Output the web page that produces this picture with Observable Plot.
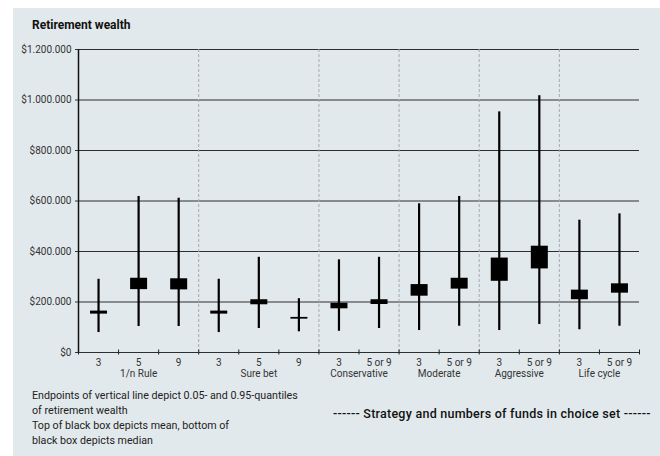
<!DOCTYPE html>
<html><head><meta charset="utf-8">
<script src="https://cdn.jsdelivr.net/npm/d3@7"></script>
<script src="https://cdn.jsdelivr.net/npm/@observablehq/plot@0.6"></script>
<style>
body{margin:0;background:#fff;font-family:Roboto,sans-serif;}
#panel{position:absolute;left:13px;top:8px;width:647px;height:448px;background:#e2e9ec;}
#title{position:absolute;left:19px;top:10px;font-size:12px;font-weight:700;color:#111;}
#chart{position:absolute;left:0;top:28px;}
#note{position:absolute;left:19px;top:380px;font-size:10.7px;line-height:15px;color:#222;}
#xlabel{position:absolute;left:320px;top:398px;font-size:12.5px;letter-spacing:0.25px;font-weight:500;color:#111;white-space:nowrap;}
</style></head><body>
<div id="panel">
<div id="title">Retirement wealth</div>
<div id="chart"></div>
<div id="note">Endpoints of vertical line depict 0.05- and 0.95-quantiles<br>of retirement wealth<br>Top of black box depicts mean, bottom of<br>black box depicts median</div>
<div id="xlabel">------ Strategy and numbers of funds in choice set ------</div>
</div>
<script>
const strategies = ["1/n Rule","1/n Rule","1/n Rule","Sure bet","Sure bet","Sure bet","Conservative","Conservative","Moderate","Moderate","Aggressive","Aggressive","Life cycle","Life cycle"];
const funds = ["3","5","9","3","5","9","3","5 or 9","3","5 or 9","3","5 or 9","3","5 or 9"];
const q05 = [79000,103000,103000,79000,95000,82000,84000,95000,87000,104000,87000,111000,90000,104000];
const q95 = [290000,618000,611000,290000,377000,213000,367000,377000,589000,618000,953000,1017000,524000,549000];
const means = [164000,294000,292000,164000,209000,139000,195000,209000,269000,294000,374000,421000,247000,272000];
const medians = [152000,249000,248000,152000,189000,132000,173000,190000,223000,251000,282000,331000,209000,235000];
const yTicks = [0,200000,400000,600000,800000,1000000,1200000];

const n = funds.length;
const rows = funds.map((f, i) => ({pos: i + 0.5, strategy: strategies[i], funds: f, q05: q05[i], q95: q95[i], mean: means[i], median: medians[i]}));
const groupNames = [...new Set(strategies)];
const groups = groupNames.map(g => ({name: g, center: d3.mean(rows.filter(r => r.strategy === g), r => r.pos)}));
const boundaries = d3.range(1, n).filter(i => strategies[i] !== strategies[i - 1]);
const yMax = yTicks[yTicks.length - 1];
const fmt = d => "$" + d3.format(",")(d).replace(/,/g, ".");

const chart = Plot.plot({
  width: 647, height: 348,
  marginLeft: 65, marginRight: 21, marginTop: 13, marginBottom: 32,
  style: {background: "transparent", fontFamily: "Roboto, sans-serif", fontSize: "10px", color: "#333"},
  x: {domain: [0, n]},
  y: {domain: [0, yMax]},
  marks: [
    Plot.ruleY(yTicks, {stroke: "#2e2e2e", strokeWidth: 1.1}),
    Plot.ruleX(boundaries, {y1: 0, y2: yMax, stroke: "#a4a9ad", strokeDasharray: "3,2"}),
    Plot.axisX({ticks: d3.range(0, n + 1), tickSize: 5, dy: -2.5, tickFormat: () => "", stroke: "#222"}),
    Plot.ruleX([0], {y1: 0, y2: yMax, stroke: "#111", strokeWidth: 1.5}),
    Plot.axisY({ticks: yTicks, tickSize: 3, tickPadding: 4, tickFormat: fmt, fontSize: 10, fill: "#333"}),
    Plot.ruleX(rows, {x: "pos", y1: "q05", y2: "q95", stroke: "#000", strokeWidth: 2.2}),
    Plot.ruleX(rows, {x: "pos", y1: "median", y2: "mean", stroke: "#000", strokeWidth: 17}),
    Plot.text(rows, {x: "pos", y: 0, text: "funds", dy: 10, fontSize: 10, fill: "#333"}),
    Plot.text(groups, {x: "center", y: 0, text: "name", dy: 21, fontSize: 10, fill: "#333"})
  ]
});
document.getElementById("chart").appendChild(chart);
</script>
</body></html>
